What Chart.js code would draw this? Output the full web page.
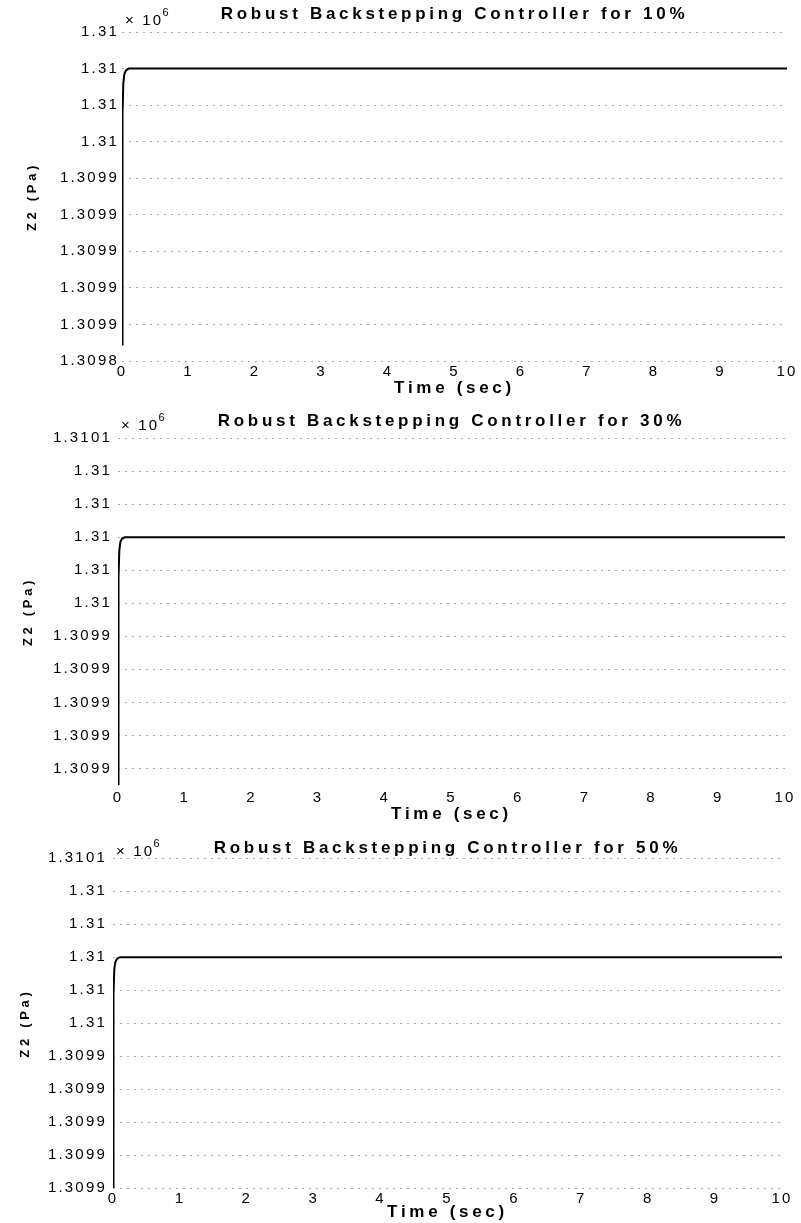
<!DOCTYPE html>
<html>
<head>
<meta charset="utf-8">
<script src="https://cdn.jsdelivr.net/npm/chart.js@4.4.0/dist/chart.umd.min.js"></script>
<style>
  body { margin: 0; background: #fff; }
  .panel { position: absolute; left: 0; }
</style>
</head>
<body>
<div class="panel" style="top:0"><canvas id="plot10" width="801" height="405"></canvas></div>
<div class="panel" style="top:405px"><canvas id="plot30" width="801" height="420"></canvas></div>
<div class="panel" style="top:825px"><canvas id="plot50" width="801" height="398"></canvas></div>
<script>
// time axis (sec)
const timeSec = [0, 0.005, 0.01, 0.02, 0.035, 0.06, 0.1, 0.2, 1, 2, 3, 4, 5, 6, 7, 8, 9, 10];

// Z2 pressure (Pa) for each uncertainty level
const z2Case10 = [1309849, 1309920, 1309975, 1309992, 1309997, 1309999, 1310000, 1310000, 1310000,
                  1310000, 1310000, 1310000, 1310000, 1310000, 1310000, 1310000, 1310000, 1310000];
const z2Case30 = [1309850, 1309925, 1309976, 1309992, 1309997, 1309999, 1310000, 1310000, 1310000,
                  1310000, 1310000, 1310000, 1310000, 1310000, 1310000, 1310000, 1310000, 1310000];
const z2Case50 = [1309860, 1309930, 1309978, 1309993, 1309997, 1309999, 1310000, 1310000, 1310000,
                  1310000, 1310000, 1310000, 1310000, 1310000, 1310000, 1310000, 1310000, 1310000];

// tick positions
const xTicks = [0, 1, 2, 3, 4, 5, 6, 7, 8, 9, 10];
const yTicks10 = [1309840, 1309860, 1309880, 1309900, 1309920, 1309940, 1309960, 1309980, 1310000, 1310020];
const yTicks30 = [1309860, 1309880, 1309900, 1309920, 1309940, 1309960, 1309980, 1310000, 1310020, 1310040, 1310060];
const yTicks50 = [1309860, 1309880, 1309900, 1309920, 1309940, 1309960, 1309980, 1310000, 1310020, 1310040, 1310060];

const FONT = '"Liberation Sans", Arial, sans-serif';

// matlab style labels: 5 significant digits of value / 1e6
function matlabLabel(v) {
  return String(parseFloat((v / 1e6).toPrecision(5)));
}

// scanned figure has wide letter spacing; also draws the "x 10^6" multiplier
const scanText = {
  id: 'scanText',
  beforeDraw(chart) { chart.ctx.letterSpacing = '3.7px'; },
  afterDatasetsDraw(chart) { chart.ctx.letterSpacing = '2.2px'; },
  afterDraw(chart, args, opts) {
    const { ctx, chartArea } = chart;
    ctx.save();
    ctx.fillStyle = '#000';
    ctx.textAlign = 'left';
    ctx.textBaseline = 'middle';
    ctx.font = '15px ' + FONT;
    const x = chartArea.left + 3;
    const y = chartArea.top + opts.dy;
    ctx.fillText('× 10', x, y);
    const w = ctx.measureText('× 10').width;
    ctx.font = '11px ' + FONT;
    ctx.fillText('6', x + w - 1, y - 8);
    ctx.restore();
  }
};

function makePlot(id, pct, values, yTicks, yMin, yMax, lay) {
  return new Chart(document.getElementById(id), {
    type: 'line',
    data: {
      datasets: [{
        data: timeSec.map((t, i) => ({ x: t, y: values[i] })),
        borderColor: '#000',
        borderWidth: 2,
        pointRadius: 0,
        tension: 0,
        fill: false
      }]
    },
    options: {
      responsive: false,
      animation: false,
      devicePixelRatio: 1,
      layout: { padding: { left: 0, right: lay.right, top: 0, bottom: 0 } },
      plugins: {
        legend: { display: false },
        tooltip: { enabled: false },
        title: {
          display: true,
          fullSize: false,
          text: 'Robust Backstepping Controller for ' + pct + '%',
          color: '#000',
          font: { family: FONT, size: 17, weight: 'bold', lineHeight: 1.2 },
          padding: { top: lay.titleTop, bottom: lay.titleBottom }
        },
        scanText: { dy: lay.expoDy }
      },
      scales: {
        x: {
          type: 'linear',
          min: 0,
          max: 10,
          afterBuildTicks: s => { s.ticks = xTicks.map(v => ({ value: v })); },
          afterFit: s => { s.height = lay.xHeight; },
          grid: { display: false, drawTicks: false },
          border: { display: false },
          ticks: {
            z: 1,
            color: '#000',
            padding: lay.xPad,
            maxRotation: 0,
            font: { family: FONT, size: 15 }
          },
          title: {
            display: true,
            text: 'Time (sec)',
            color: '#000',
            font: { family: FONT, size: 17, weight: 'bold', lineHeight: 1.2 },
            padding: { top: 0, bottom: lay.xTitleBottom }
          }
        },
        y: {
          min: yMin,
          max: yMax,
          afterBuildTicks: s => { s.ticks = yTicks.map(v => ({ value: v })); },
          afterFit: s => { s.width = lay.left; },
          grid: { color: 'rgba(0,0,0,0.33)', lineWidth: 1, drawTicks: false, borderDash: [2, 5] },
          border: { display: false, dash: [2, 5] },
          ticks: {
            z: 1,
            color: '#000',
            padding: lay.yPad,
            font: { family: FONT, size: 15 },
            callback: v => matlabLabel(v)
          },
          title: {
            display: true,
            text: 'Z2 (Pa)',
            color: '#000',
            font: { family: FONT, size: 13, weight: 'bold', lineHeight: 1.2 },
            padding: { top: lay.yTitleTop, bottom: 0 }
          }
        }
      }
    },
    plugins: [scanText]
  });
}

makePlot('plot10', 10, z2Case10, yTicks10, 1309840, 1310020, {
  left: 122, right: 14, xHeight: 44, xPad: 2, yPad: 3,
  titleTop: 3.8, titleBottom: 7.8, xTitleBottom: 6, yTitleTop: 25, expoDy: -11
});
makePlot('plot30', 30, z2Case30, yTicks30, 1309850, 1310060, {
  left: 118, right: 16, xHeight: 40, xPad: 3.5, yPad: 6,
  titleTop: 5.8, titleBottom: 6.8, xTitleBottom: 0, yTitleTop: 21, expoDy: -12
});
makePlot('plot50', 50, z2Case50, yTicks50, 1309860, 1310060, {
  left: 113, right: 19, xHeight: 35, xPad: 1.5, yPad: 6,
  titleTop: 12.8, titleBottom: 0, xTitleBottom: 0, yTitleTop: 18, expoDy: -6
});
</script>
</body>
</html>
